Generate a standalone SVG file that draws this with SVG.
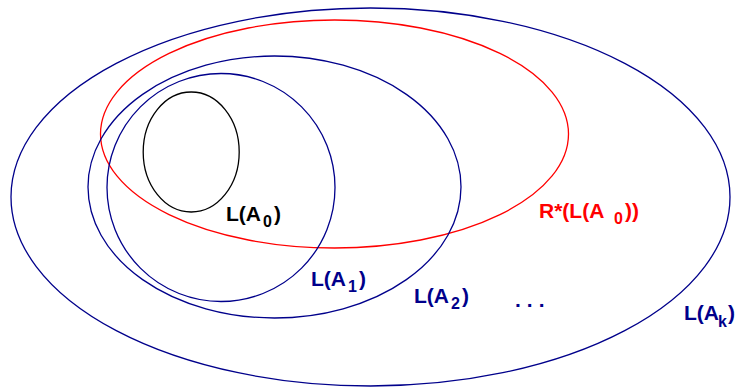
<svg xmlns="http://www.w3.org/2000/svg" width="740" height="392" viewBox="0 0 740 392">
<style>
  .sh{fill:none;stroke-width:1.3}
  .blue{stroke:#00008b}
  .t{font-family:"Liberation Sans",Arial,sans-serif;font-weight:bold;font-size:21px}
  .s{font-size:16px}
  .tb{fill:#00008b}
</style>
<rect width="740" height="392" fill="#fff"/>
<g id="Ak">
  <ellipse class="sh blue" cx="370.5" cy="197" rx="359.5" ry="189"/>
  <text class="t tb" x="684" y="320">L(A<tspan class="s" x="718" y="327">k</tspan><tspan x="728" y="320">)</tspan></text>
</g>
<g id="R">
  <ellipse class="sh" stroke="#ff0000" cx="334.5" cy="134" rx="234" ry="114"/>
  <text class="t" fill="#ff0000" x="539" y="218">R*(L(A<tspan class="s" x="614" y="224">0</tspan><tspan x="625" y="218">))</tspan></text>
</g>
<g id="A2">
  <ellipse class="sh blue" cx="274.5" cy="187" rx="186.5" ry="131"/>
  <text class="t tb" x="414" y="303">L(A<tspan class="s" x="451" y="309">2</tspan><tspan x="462" y="303">)</tspan></text>
</g>
<g id="A1">
  <ellipse class="sh blue" cx="221" cy="187.5" rx="114" ry="114"/>
  <text class="t tb" x="311" y="286">L(A<tspan class="s" x="348" y="292">1</tspan><tspan x="359" y="286">)</tspan></text>
</g>
<g id="A0">
  <ellipse class="sh" stroke="#000" cx="191.2" cy="152" rx="48" ry="60"/>
  <text class="t" fill="#000" x="226" y="221">L(A<tspan class="s" x="263" y="227">0</tspan><tspan x="274" y="221">)</tspan></text>
</g>
<g id="dots">
  <text class="t tb" x="515" y="307" letter-spacing="6">...</text>
</g>
</svg>
